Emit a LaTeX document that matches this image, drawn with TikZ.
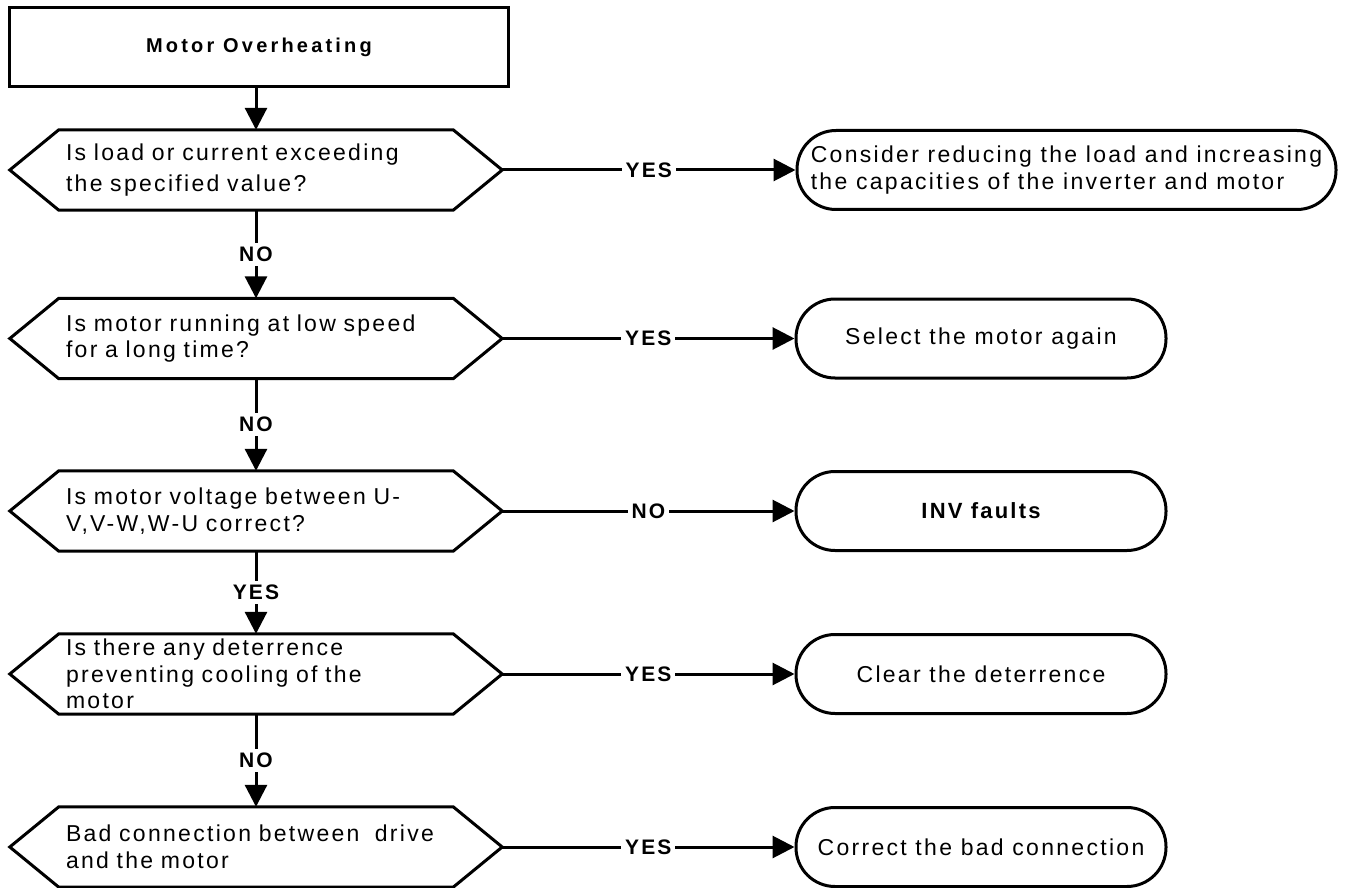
\documentclass[tikz,border=0pt]{standalone}
\usepackage{fontspec}
\setmainfont{Liberation Sans}
\newfontfamily\spfont[LetterSpace=10]{Liberation Sans}
\newfontfamily\lbfont[LetterSpace=10]{Liberation Sans}
\newfontfamily\ttlfont[LetterSpace=16]{Liberation Sans}
\usetikzlibrary{arrows.meta,calc}
\tikzset{
  hexbox/.style={rectangle, minimum width=492pt, minimum height=80pt,
    inner xsep=56pt, inner ysep=0pt, text width=380pt, align=left,
    font=\spfont\fontsize{23}{26.5}\selectfont},
  hexline/.style={line width=3pt, line join=miter},
  termbox/.style={rectangle, draw, line width=3pt, rounded corners=39pt,
    minimum height=79pt, inner sep=0pt, align=center,
    font=\spfont\fontsize{23}{27}\selectfont},
  titlebox/.style={rectangle, draw, line width=3pt, minimum width=499pt,
    minimum height=79pt, font=\ttlfont\bfseries\fontsize{20}{24}\selectfont},
  flow/.style={line width=3pt, -{Triangle[length=22pt,width=22pt]}},
  lab/.style={fill=white, inner sep=4pt, font=\lbfont\bfseries\fontsize{21}{25}\selectfont},
}
\begin{document}
\begin{tikzpicture}[x=1pt,y=-1pt]
\useasboundingbox (0,0) rectangle (1345,888);
\fill[white] (0,0) rectangle (1345,888);

\node[titlebox] (top) at (259,47.5) {Motor Overheating};

\node[hexbox, font=\spfont\fontsize{23}{31}\selectfont] (h1) at (256,170) {Is load or current exceeding\\the specified value?};
\node[hexbox] (h2) at (256,338.5) {Is motor running at low speed\\for a long time?};
\node[hexbox] (h3) at (256,511) {Is motor voltage between U-\\V,V-W,W-U correct?};
\node[hexbox, font=\spfont\fontsize{23}{26.7}\selectfont] (h4) at (256,674) {Is there any deterrence\\preventing cooling of the\\motor};
\node[hexbox] (h5) at (256,847) {Bad connection between\ \ drive\\and the motor};

\foreach \h in {h1,h2,h3,h4,h5}{
  \draw[hexline] (\h.west) -- ([xshift=49pt]\h.north west) -- ([xshift=-49pt]\h.north east)
    -- (\h.east) -- ([xshift=-49pt]\h.south east) -- ([xshift=49pt]\h.south west) -- cycle;
}

\node[termbox, minimum width=539pt, align=left] (t1) at (1066.5,170) {Consider reducing the load and increasing\\the capacities of the inverter and motor};
\node[termbox, minimum width=370pt] (t2) at (981,338.5) {Select the motor again};
\node[termbox, minimum width=370pt, font=\lbfont\bfseries\fontsize{22}{26}\selectfont] (t3) at (981,511) {INV faults};
\node[termbox, minimum width=370pt] (t4) at (981,674) {Clear the deterrence};
\node[termbox, minimum width=370pt] (t5) at (981,847) {Correct the bad connection};

\draw[flow] (top.south -| h1.north) -- (h1.north);
\draw[flow] (h1) -- node[lab] {NO} (h2);
\draw[flow] (h2) -- node[lab] {NO} (h3);
\draw[flow] (h3) -- node[lab] {YES} (h4);
\draw[flow] (h4) -- node[lab] {NO} (h5);

\draw[flow] (h1) -- node[lab] {YES} (t1);
\draw[flow] (h2) -- node[lab] {YES} (t2);
\draw[flow] (h3) -- node[lab] {NO} (t3);
\draw[flow] (h4) -- node[lab] {YES} (t4);
\draw[flow] (h5) -- node[lab] {YES} (t5);
\end{tikzpicture}
\end{document}
